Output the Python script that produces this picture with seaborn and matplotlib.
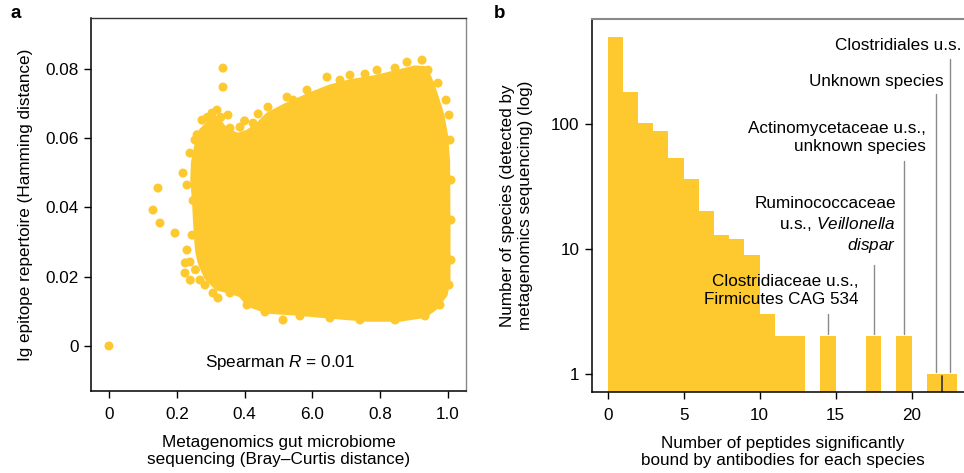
import numpy as np
import pandas as pd
import matplotlib
matplotlib.use("Agg")
import matplotlib.pyplot as plt
from matplotlib.patches import Polygon
import seaborn as sns

# ---------------- data ----------------
# panel a: dense core outline of the point cloud (Bray-Curtis vs Hamming)
cloud_x = [0.262, 0.258, 0.255, 0.250, 0.252, 0.262, 0.275, 0.295, 0.315, 0.335,
           0.355, 0.380, 0.410, 0.440, 0.470, 0.519, 0.593, 0.652, 0.711, 0.785,
           0.844, 0.903, 0.930, 0.948, 0.963, 0.979, 0.990, 0.996, 0.997, 0.997,
           0.989, 0.962, 0.930, 0.858, 0.761, 0.661, 0.563, 0.468, 0.414, 0.390,
           0.360, 0.320, 0.290, 0.272, 0.265]
cloud_y = [0.0300, 0.0360, 0.0420, 0.0480, 0.0530, 0.0580, 0.0620, 0.0640, 0.0655, 0.0630,
           0.0615, 0.0605, 0.0615, 0.0635, 0.0665, 0.0690, 0.0722, 0.0745, 0.0760, 0.0772,
           0.0786, 0.0800, 0.0798, 0.0760, 0.0716, 0.0667, 0.0607, 0.0530, 0.0335, 0.0190,
           0.0150, 0.0114, 0.0091, 0.0080, 0.0080, 0.0088, 0.0097, 0.0103, 0.0122, 0.0150,
           0.0160, 0.0170, 0.0200, 0.0240, 0.0270]
# panel a: individual points around the cloud edge
pts_x = [0.0, 0.3363, 0.3363, 0.1445, 0.1298, 0.1504, 0.1947, 0.2242, 0.2301, 0.2389,
         0.2183, 0.2301, 0.2537, 0.2743, 0.3038, 0.3186, 0.3510, 0.3038, 0.3274, 0.3569,
         0.3864, 0.4248, 0.4690, 0.5251, 0.5428, 0.5841, 0.6431, 0.6814, 0.7109, 0.7552,
         0.7906, 0.8437, 0.8791, 0.9115, 0.9233, 0.9410, 0.9705, 0.9941, 1.0029, 1.0059,
         1.0088, 1.0088, 1.0088, 1.0029, 0.9764, 0.9322, 0.8437, 0.7404, 0.6519, 0.5634,
         0.5133, 0.4602, 0.4071, 0.3569, 0.3215, 0.3068, 0.2832, 0.2684, 0.2389,
         0.2450, 0.2480, 0.2600, 0.2900, 0.3300, 0.4000, 0.4400, 0.2250, 0.2400, 0.2550]
pts_y = [0.0, 0.08023, 0.07475, 0.04560, 0.03925, 0.03550, 0.03261, 0.02107, 0.02771, 0.05570,
         0.04993, 0.04647, 0.05945, 0.06522, 0.06724, 0.06811, 0.06667, 0.06147, 0.06003, 0.06291,
         0.06320, 0.06436, 0.06898, 0.07186, 0.07100, 0.07388, 0.07763, 0.07677, 0.07821, 0.07850,
         0.07965, 0.08023, 0.08196, 0.07908, 0.08254, 0.07965, 0.07590, 0.07100, 0.06667, 0.05945,
         0.04791, 0.03636, 0.02482, 0.01760, 0.01183, 0.00866, 0.00750, 0.00750, 0.00808, 0.00866,
         0.00750, 0.00981, 0.01183, 0.01530, 0.01385, 0.01530, 0.01760, 0.01905, 0.02424,
         0.03200, 0.04200, 0.06100, 0.06600, 0.06600, 0.06500, 0.06700, 0.02400, 0.01900, 0.02200]
a_xticks = [0, 0.2, 0.4, 0.6, 0.8, 1.0]
a_xticklabels = ["0", "0.2", "0.4", "6.0", "0.8", "1.0"]
a_yticks = [0, 0.02, 0.04, 0.06, 0.08]
a_yticklabels = ["0", "0.02", "0.04", "0.06", "0.08"]

# panel b: histogram of peptides per species (bin left edge -> species count)
pep_bins = [0, 1, 2, 3, 4, 5, 6, 7, 8, 9, 10, 11, 12, 14, 17, 19, 21, 22]
species_counts = [500, 180, 101, 88, 53, 36, 20, 13, 12, 9, 3, 2, 2, 2, 2, 2, 1, 1]
b_xticks = [0, 5, 10, 15, 20]
b_yticks = [1, 10, 100]
b_yticklabels = ["1", "10", "100"]
annot_labels = ["Clostridiaceae u.s.,\nFirmicutes CAG 534",
                "Ruminococcaceae\nu.s., $\\mathit{Veillonella}$\n$\\mathit{dispar}$",
                "Actinomycetaceae u.s.,\nunknown species",
                "Unknown species",
                "Clostridiales u.s."]
annot_line_x = [14.5, 17.5, 19.5, 21.6, 22.5]
annot_line_top = [3.0, 7.4, 51.0, 174.0, 331.0]
annot_line_bottom = [2.1, 2.1, 2.1, 1.04, 1.04]
annot_text_x = [16.53, 18.97, 20.92, 22.13, 23.29]
annot_text_y = [4.7, 15.3, 78.7, 217.0, 428.0]

# ---------------- style ----------------
sns.set_style("ticks")
plt.rcParams["font.family"] = ["Liberation Sans", "DejaVu Sans"]
plt.rcParams["mathtext.fontset"] = "custom"
plt.rcParams["mathtext.rm"] = "Liberation Sans"
plt.rcParams["mathtext.it"] = "Liberation Sans:italic"
plt.rcParams["font.size"] = 12.3
for k in ["text.color", "axes.labelcolor", "xtick.color", "ytick.color", "axes.edgecolor"]:
    plt.rcParams[k] = "black"
YEL = "#FDC92F"
FS = 12.3

fig = plt.figure(figsize=(9.64, 4.73), dpi=100)
axa = fig.add_axes([91 / 964, 1 - 391 / 473, 375 / 964, 373 / 473])
axb = fig.add_axes([592 / 964, 1 - 392 / 473, 420 / 964, 373 / 473])

# ---------------- panel a ----------------
axa.add_patch(Polygon(np.column_stack([cloud_x, cloud_y]), closed=True,
                      facecolor=YEL, edgecolor=YEL, linewidth=5, joinstyle="round"))
sns.scatterplot(x=pts_x, y=pts_y, ax=axa, color=YEL, s=42, linewidth=0, edgecolor="none",
                alpha=1)
axa.set_xlim(-0.053, 1.053)
axa.set_ylim(-0.013, 0.0947)
axa.set_xticks(a_xticks)
axa.set_xticklabels(a_xticklabels)
axa.set_yticks(a_yticks)
axa.set_yticklabels(a_yticklabels)
axa.text(0.504, -0.0049, "Spearman $\\mathit{R}$ = 0.01", ha="center", va="center", fontsize=FS)
axa.set_xlabel("Metagenomics gut microbiome\nsequencing (Bray\u2013Curtis distance)", fontsize=FS)
axa.set_ylabel("Ig epitope repertoire (Hamming distance)", fontsize=FS)
axa.xaxis.set_label_coords(0.501, -0.118)
axa.yaxis.set_label_coords(-0.155, 0.5)
for s in ["left", "bottom"]:
    axa.spines[s].set_color("black")
    axa.spines[s].set_linewidth(1.1)
axa.spines["top"].set_color("#333333")
axa.spines["right"].set_color("#888888")
axa.spines["top"].set_linewidth(1.0)
axa.spines["right"].set_linewidth(1.0)
axa.tick_params(axis="x", length=5, width=1, pad=6.5, labelsize=FS, direction="out")
axa.tick_params(axis="y", length=5, width=1, pad=4, labelsize=FS, direction="out")

# ---------------- panel b ----------------
df = pd.DataFrame({"peptides": np.array(pep_bins, dtype=float) + 0.5,
                   "species": np.array(species_counts, dtype=float)})
sns.histplot(data=df, x="peptides", weights="species", binwidth=1, binrange=(0, 23),
             ax=axb, color=YEL, alpha=1, linewidth=0)
axb.set_yscale("log")
axb.set_ylim(0.718, 692)
axb.set_xlim(-1.03, 26.6)
axb.set_yticks(b_yticks)
axb.set_yticklabels(b_yticklabels)
axb.yaxis.set_minor_locator(matplotlib.ticker.NullLocator())
axb.set_xticks(b_xticks)
axb.set_xticklabels([str(v) for v in b_xticks])
for lx, lt, lb in zip(annot_line_x, annot_line_top, annot_line_bottom):
    axb.plot([lx, lx], [lb, lt], color="#8a8a8a", lw=1.0)
axb.plot([22, 22], [0.718, 0.97], color="#333333", lw=1.2)
for t, tx, ty in zip(annot_labels, annot_text_x, annot_text_y):
    axb.text(tx, ty, t, ha="right", va="center", fontsize=FS, linespacing=1.25)
axb.set_xlabel("Number of peptides significantly\nbound by antibodies for each species", fontsize=FS)
axb.set_ylabel("Number of species (detected by\nmetagenomics sequencing) (log)", fontsize=FS)
axb.xaxis.set_label_coords(0.468 * 408 / 420, -0.118)
axb.yaxis.set_label_coords(-0.145 * 408 / 420, 0.5)
axb.spines["right"].set_visible(False)
axb.spines["top"].set_color("#888888")
axb.spines["top"].set_linewidth(1.5)
for s in ["left", "bottom"]:
    axb.spines[s].set_color("black")
    axb.spines[s].set_linewidth(1.1)
axb.tick_params(axis="x", length=5, width=1, pad=6.5, labelsize=FS, direction="out")
axb.tick_params(axis="y", length=5, width=1, pad=4, labelsize=FS, direction="out")

fig.text(16 / 964, 1 - 14 / 473, "a", fontsize=13.5, fontweight="bold", ha="center", va="center")
fig.text(500 / 964, 1 - 14 / 473, "b", fontsize=13.5, fontweight="bold", ha="center", va="center")

fig.savefig("out.png", dpi=100)
